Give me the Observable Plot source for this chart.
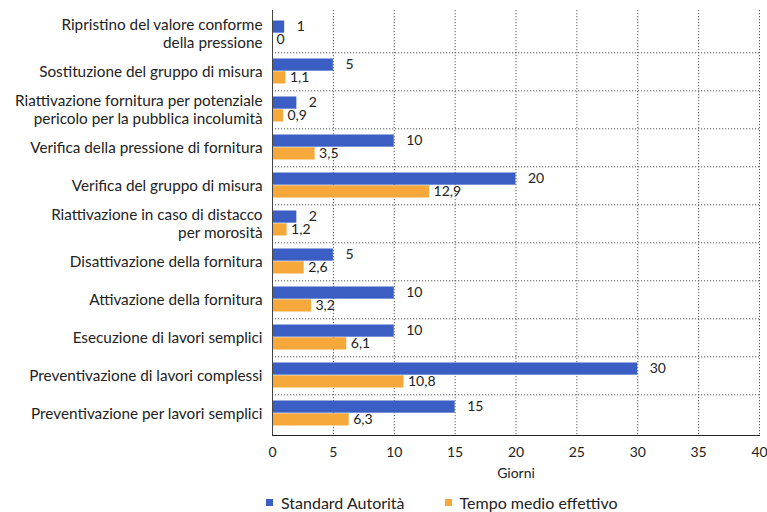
<!DOCTYPE html>
<html>
<head>
<meta charset="utf-8">
<script src="https://cdn.jsdelivr.net/npm/d3@7"></script>
<script src="https://cdn.jsdelivr.net/npm/@observablehq/plot@0.6"></script>
<style>
  html, body { margin: 0; padding: 0; background: #fff; }
  #wrap { position: relative; width: 767px; height: 512px; font-family: Lato, "Noto Sans", sans-serif; color: #222; }
  #legend { position: absolute; top: 493px; left: 266px; font-size: 16px; white-space: nowrap; }
  #legend .sw { display: inline-block; width: 7px; height: 7px; margin-right: 8px; vertical-align: middle; position: relative; top: -2px; }
  #legend .item { display: inline-block; margin-right: 40px; }
</style>
</head>
<body>
<div id="wrap"></div>
<script>
const categories = [
  "Ripristino del valore conforme\ndella pressione",
  "Sostituzione del gruppo di misura",
  "Riattivazione fornitura per potenziale\npericolo per la pubblica incolumità",
  "Verifica della pressione di fornitura",
  "Verifica del gruppo di misura",
  "Riattivazione in caso di distacco\nper morosità",
  "Disattivazione della fornitura",
  "Attivazione della fornitura",
  "Esecuzione di lavori semplici",
  "Preventivazione di lavori complessi",
  "Preventivazione per lavori semplici"
];
const seriesNames = ["Standard Autorità", "Tempo medio effettivo"];
const standard = [1, 5, 2, 10, 20, 2, 5, 10, 10, 30, 15];
const effettivo = [0, 1.1, 0.9, 3.5, 12.9, 1.2, 2.6, 3.2, 6.1, 10.8, 6.3];
const xTicks = [0, 5, 10, 15, 20, 25, 30, 35, 40];
const colors = ["#3a5ec4", "#f6a83a"];

const rowsStd = categories.map((c, i) => ({cat: c, value: standard[i]}));
const rowsEff = categories.map((c, i) => ({cat: c, value: effettivo[i]}));

const W = 767, H = 485, mTop = 10, mBottom = 50, mLeft = 272, mRight = 8;
const bw = (H - mTop - mBottom) / categories.length;
const fmt = v => String(v).replace(".", ",");

const chart = Plot.plot({
  width: W,
  height: H,
  marginTop: mTop,
  marginBottom: mBottom,
  marginLeft: mLeft,
  marginRight: mRight,
  style: {fontFamily: "Lato, 'Noto Sans', sans-serif", fontSize: "14px", color: "#222", background: "#fff"},
  x: {domain: [0, 40], ticks: xTicks, tickFormat: d => String(d), tickSize: 0, tickPadding: 12, label: "Giorni", labelAnchor: "center", labelArrow: false, labelOffset: 42, line: true},
  y: {domain: categories, padding: 0, axis: null},
  marks: [
    Plot.ruleX(xTicks.filter(t => t > 0), {stroke: "#555", strokeDasharray: "1.2,1.8", strokeWidth: 1}),
    Plot.ruleY(categories.slice(0, -1), {y: d => d, dy: bw / 2, stroke: "#555", strokeDasharray: "1.2,1.8", strokeWidth: 1}),
    Plot.barX(rowsStd, {x: "value", y: "cat", fill: colors[0], insetTop: 6.5, insetBottom: bw / 2}),
    Plot.barX(rowsEff, {x: "value", y: "cat", fill: colors[1], insetTop: bw / 2, insetBottom: 6.5}),
    Plot.text(rowsStd, {x: "value", y: "cat", text: d => fmt(d.value), dx: 12, dy: -6.5, textAnchor: "start", fill: "#222", fontSize: 14}),
    Plot.text(rowsEff, {x: "value", y: "cat", text: d => fmt(d.value), dx: 4, dy: 6.5, textAnchor: "start", fill: "#222", fontSize: 14}),
    Plot.text(categories, {y: d => d, text: d => d, frameAnchor: "left", dx: -10, textAnchor: "end", lineHeight: 1.12, fontSize: 15.3, fill: "#222"}),
    Plot.ruleX([0], {stroke: "#444"})
  ]
});

const wrap = document.getElementById("wrap");
wrap.appendChild(chart);
const legend = document.createElement("div");
legend.id = "legend";
legend.innerHTML = seriesNames.map((n, i) =>
  `<span class="item"><span class="sw" style="background:${colors[i]}"></span>${n}</span>`).join("");
wrap.appendChild(legend);
</script>
</body>
</html>
